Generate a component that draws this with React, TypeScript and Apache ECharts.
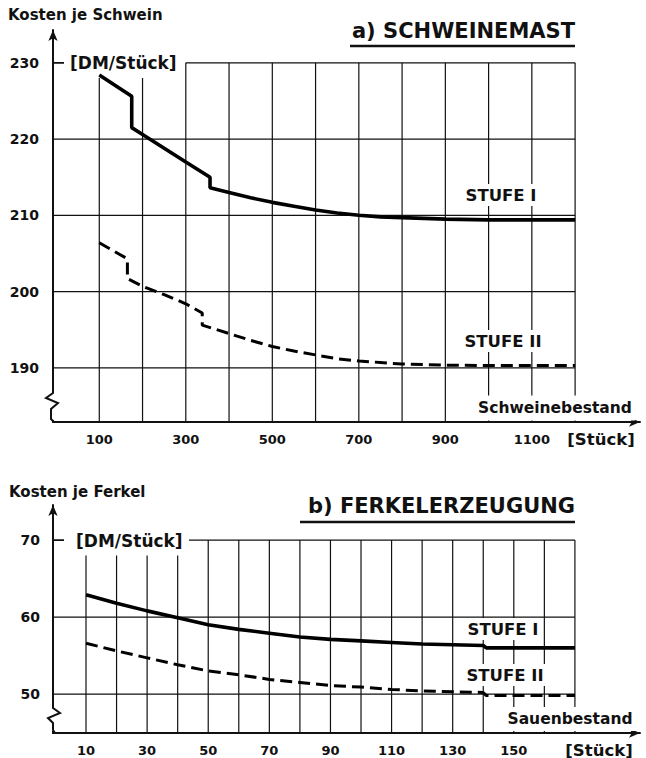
import React, { useEffect, useRef } from "react";
import * as echarts from "echarts";

// ---------- a) SCHWEINEMAST ----------
const topXLabels = [100, 300, 500, 700, 900, 1100];
const topYLabels = [190, 200, 210, 220, 230];
const topGridXs = [100, 200, 300, 400, 500, 600, 700, 800, 900, 1000, 1100, 1200];
const topGridXsShort = [100, 200];
const topGridYs = [190, 200, 210, 220];
const topStufe1 = [
  [100, 228.4], [175, 225.6], [175, 221.5], [200, 220.6], [250, 218.8], [300, 217.0],
  [356, 215.0], [356, 213.6], [400, 213.0], [450, 212.3], [500, 211.7], [550, 211.2],
  [600, 210.7], [650, 210.3], [700, 210.0], [750, 209.8], [800, 209.7], [900, 209.5],
  [1000, 209.4], [1100, 209.4], [1200, 209.4],
];
const topStufe2 = [
  [100, 206.4], [165, 204.3], [165, 201.7], [200, 200.7], [250, 199.6], [300, 198.4],
  [338, 197.2], [338, 195.6], [400, 194.5], [450, 193.6], [500, 192.8], [550, 192.2],
  [600, 191.7], [650, 191.2], [700, 190.9], [750, 190.7], [800, 190.5], [900, 190.35],
  [1000, 190.3], [1100, 190.3], [1200, 190.3],
];

// ---------- b) FERKELERZEUGUNG ----------
const botXLabels = [10, 30, 50, 70, 90, 110, 130, 150];
const botYLabels = [50, 60, 70];
const botGridXs = [10, 20, 30, 40, 50, 60, 70, 80, 90, 100, 110, 120, 130, 140, 150, 160, 170];
const botGridXsShort = [10, 20, 30, 40];
const botGridYs = [50, 60];
const botStufe1 = [
  [10, 62.9], [20, 61.8], [30, 60.8], [40, 59.9], [50, 59.0], [60, 58.4], [70, 57.9],
  [80, 57.4], [90, 57.1], [100, 56.9], [110, 56.7], [120, 56.5], [130, 56.4], [140, 56.3],
  [141, 56.0], [150, 56.0], [160, 56.0], [170, 56.0],
];
const botStufe2 = [
  [10, 56.6], [20, 55.6], [30, 54.7], [40, 53.8], [50, 53.0], [60, 52.5], [70, 51.9],
  [80, 51.5], [90, 51.1], [100, 50.9], [110, 50.6], [120, 50.4], [130, 50.3], [140, 50.2],
  [141, 49.8], [150, 49.8], [160, 49.8], [170, 49.8],
];

const TOP = { xMin: -7, xMax: 1350, yMin: 182.9, yMax: 234.3, xEnd: 1200, yTop: 230, yShortTop: 228, topLineStart: 300, minorFrom: 188 };
const BOT = { xMin: -0.8, xMax: 191.3, yMin: 44.94, yMax: 74.55, xEnd: 170, yTop: 70, yShortTop: 68, topLineStart: 43.7, minorFrom: 49 };
const GRIDS = [
  { left: 53, top: 30, width: 587, height: 392 },
  { left: 53, top: 505, width: 587, height: 228 },
];

const FONT = '"DejaVu Sans", Verdana, sans-serif';
const INK = "#111";

function range(a: number, b: number) {
  const r: number[] = [];
  for (let v = a; v <= b; v++) r.push(v);
  return r;
}

function vGrid(idx: number, data: number[][]) {
  return {
    type: "custom", xAxisIndex: idx, yAxisIndex: idx, clip: false, silent: true, z: 1,
    encode: { x: 0, y: [1, 2] },
    data,
    renderItem: (_p: any, api: any) => {
      const a = api.coord([api.value(0), api.value(1)]);
      const b = api.coord([api.value(0), api.value(2)]);
      return { type: "line", shape: { x1: a[0], y1: a[1], x2: b[0], y2: b[1] }, style: { stroke: INK, lineWidth: 1.2 } };
    },
  };
}
function hGrid(idx: number, data: number[][]) {
  return {
    type: "custom", xAxisIndex: idx, yAxisIndex: idx, clip: false, silent: true, z: 1,
    encode: { x: [1, 2], y: 0 },
    data,
    renderItem: (_p: any, api: any) => {
      const a = api.coord([api.value(1), api.value(0)]);
      const b = api.coord([api.value(2), api.value(0)]);
      return { type: "line", shape: { x1: a[0], y1: a[1], x2: b[0], y2: b[1] }, style: { stroke: INK, lineWidth: 1.3 } };
    },
  };
}

function txt(text: string, x: number, y: number, size: number, align: string, extra: any = {}) {
  return {
    type: "text", x, y, z: 50,
    style: { text, fontFamily: FONT, fontWeight: "bold", fontSize: size, fill: INK, align, verticalAlign: "middle", ...extra },
  };
}

export default function App() {
  const ref = useRef<HTMLDivElement>(null);
  useEffect(() => {
    if (!ref.current) return;
    const chart = echarts.init(ref.current, null, { renderer: "svg" });

    const axisLine = { show: true, onZero: false, symbol: ["none", "arrow"], symbolSize: [7, 11], lineStyle: { color: INK, width: 2 } };
    const lbl = (vals: number[], size: number, margin: number) => ({
      customValues: vals, color: INK, fontFamily: FONT, fontWeight: "bold", fontSize: size, margin,
      formatter: (v: number) => String(v),
    });
    const minorVals = (from: number, to: number) => range(from, to).filter((v) => v % 10 !== 0);

    // y-axis ticks as one broken line series per grid, in axis units
    const tickLine = (ax: any, majors: number[], gi: number) => {
      const upp = (ax.xMax - ax.xMin) / GRIDS[gi].width;
      const pts: any[] = [];
      minorVals(ax.minorFrom, ax.yTop).forEach((v) => { pts.push([ax.xMin - 7 * upp, v], [ax.xMin, v], "-"); });
      majors.forEach((v) => { pts.push([ax.xMin - 11 * upp, v], [ax.xMin + (v === ax.yTop ? 11 : 0) * upp, v], "-"); });
      return {
        type: "line", xAxisIndex: gi, yAxisIndex: gi, data: pts, showSymbol: false, symbol: "none",
        connectNulls: false, clip: false, silent: true, z: 6,
        lineStyle: { color: INK, width: 1.8 },
      };
    };

    const topV = topGridXs.map((x) => [x, TOP.yMin, topGridXsShort.includes(x) ? TOP.yShortTop : TOP.yTop]);
    const topH = [...topGridYs.map((y) => [y, TOP.xMin, TOP.xEnd]), [TOP.yTop, TOP.topLineStart, TOP.xEnd]];
    const botV = botGridXs.map((x) => [x, BOT.yMin, botGridXsShort.includes(x) ? BOT.yShortTop : BOT.yTop]);
    const botH = [...botGridYs.map((y) => [y, BOT.xMin, BOT.xEnd]), [BOT.yTop, BOT.topLineStart, BOT.xEnd]];

    const hidden = { show: false };

    chart.setOption({
      animation: false,
      backgroundColor: "#fff",
      textStyle: { fontFamily: FONT },
      grid: GRIDS,
      xAxis: [
        { type: "value", gridIndex: 0, min: TOP.xMin, max: TOP.xMax, axisLine, axisTick: hidden, splitLine: hidden, axisLabel: lbl(topXLabels, 13, 11) },
        { type: "value", gridIndex: 1, min: BOT.xMin, max: BOT.xMax, axisLine, axisTick: hidden, splitLine: hidden, axisLabel: lbl(botXLabels, 13, 11) },
      ],
      yAxis: [
        { type: "value", gridIndex: 0, min: TOP.yMin, max: TOP.yMax, axisLine, axisTick: hidden, splitLine: hidden, axisLabel: lbl(topYLabels, 14, 14) },
        { type: "value", gridIndex: 1, min: BOT.yMin, max: BOT.yMax, axisLine, axisTick: hidden, splitLine: hidden, axisLabel: lbl(botYLabels, 14, 13) },
      ],
      series: [
        vGrid(0, topV), hGrid(0, topH),
        vGrid(1, botV), hGrid(1, botH),
        tickLine(TOP, topYLabels, 0),
        tickLine(BOT, botYLabels, 1),
        { name: "STUFE I", type: "line", xAxisIndex: 0, yAxisIndex: 0, data: topStufe1, showSymbol: false, symbol: "none", z: 5, lineStyle: { color: "#000", width: 3.6 } },
        { name: "STUFE II", type: "line", xAxisIndex: 0, yAxisIndex: 0, data: topStufe2, showSymbol: false, symbol: "none", z: 5, lineStyle: { color: "#000", width: 3, type: [12, 6] } },
        { name: "STUFE I", type: "line", xAxisIndex: 1, yAxisIndex: 1, data: botStufe1, showSymbol: false, symbol: "none", z: 5, lineStyle: { color: "#000", width: 3.6 } },
        { name: "STUFE II", type: "line", xAxisIndex: 1, yAxisIndex: 1, data: botStufe2, showSymbol: false, symbol: "none", z: 5, lineStyle: { color: "#000", width: 3, type: [12, 6] } },
      ],
      graphic: [
        txt("Kosten je Schwein", 8, 15, 15, "left"),
        txt("a) SCHWEINEMAST", 575, 31, 21, "right"),
        { type: "line", z: 50, shape: { x1: 350, y1: 46, x2: 575, y2: 46 }, style: { stroke: INK, lineWidth: 2.6 } },
        txt("[DM/Stück]", 70, 63, 17, "left"),
        txt("STUFE I", 501, 195, 16.5, "center", { backgroundColor: "#fff", padding: [2, 4, 3, 4] }),
        txt("STUFE II", 503, 341, 16.5, "center", { backgroundColor: "#fff", padding: [2, 4, 3, 4] }),
        txt("Schweinebestand", 555, 408, 15.5, "center", { backgroundColor: "#fff", padding: [8, 3, 1, 3] }),
        txt("[Stück]", 601, 439, 16.5, "center"),
        { type: "rect", z: 60, shape: { x: 40, y: 388, width: 21, height: 32 }, style: { fill: "#fff" } },
        { type: "polyline", z: 61, shape: { points: [[53, 386], [53, 393], [46, 398], [58, 403], [51, 409], [51, 419], [54, 422]] }, style: { stroke: INK, lineWidth: 2, fill: "none" } },
        txt("Kosten je Ferkel", 9, 492, 15, "left"),
        txt("b) FERKELERZEUGUNG", 575, 506, 21, "right"),
        { type: "line", z: 50, shape: { x1: 300, y1: 522, x2: 575, y2: 522 }, style: { stroke: INK, lineWidth: 2.6 } },
        txt("[DM/Stück]", 76, 541, 17, "left"),
        txt("STUFE I", 503, 629, 16.5, "center", { backgroundColor: "#fff", padding: [2, 4, 3, 4] }),
        txt("STUFE II", 505, 675, 16.5, "center", { backgroundColor: "#fff", padding: [2, 4, 3, 4] }),
        txt("Sauenbestand", 570, 719, 15.5, "center", { backgroundColor: "#fff", padding: [7, 3, 1, 3] }),
        txt("[Stück]", 599, 750, 16.5, "center"),
        { type: "rect", z: 60, shape: { x: 40, y: 705, width: 21, height: 26 }, style: { fill: "#fff" } },
        { type: "polyline", z: 61, shape: { points: [[53, 703], [53, 708], [60, 713], [48, 718], [53, 723], [53, 730], [55, 733]] }, style: { stroke: INK, lineWidth: 2, fill: "none" } },
      ],
    });
    return () => chart.dispose();
  }, []);
  return <div ref={ref} style={{ position: "fixed", left: 0, top: 0, width: 646, height: 758, background: "#fff" }} />;
}
